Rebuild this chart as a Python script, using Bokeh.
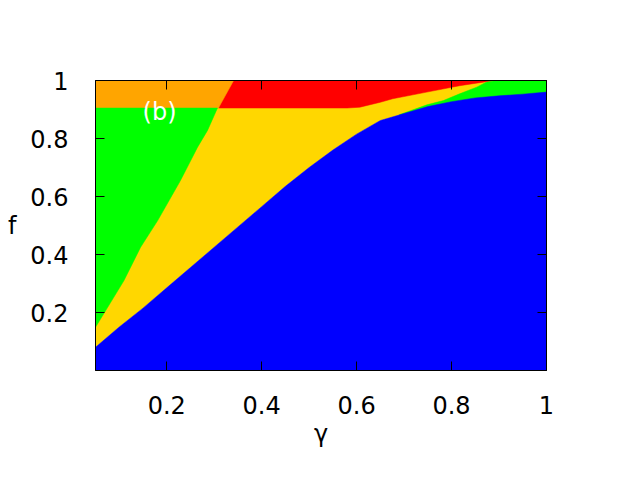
from bokeh.plotting import figure
from bokeh.models import Range1d, LinearAxis, FixedTicker, CustomJSTickFormatter, Label
from bokeh.embed import file_html
from bokeh.resources import INLINE

# ---- data: phase boundaries f(gamma) ----
blue_gamma = [0.05, 0.10, 0.15, 0.20, 0.25, 0.30, 0.35, 0.40, 0.45, 0.50,
              0.55, 0.60, 0.65, 0.70, 0.75, 0.80, 0.85, 0.90, 0.95, 1.00]
blue_f = [0.080, 0.150, 0.215, 0.285, 0.355, 0.425, 0.495, 0.565, 0.635, 0.700,
          0.760, 0.815, 0.862, 0.886, 0.910, 0.927, 0.940, 0.947, 0.953, 0.960]

left_green_gamma = [0.05, 0.110, 0.145, 0.181, 0.229, 0.265, 0.286, 0.307]
left_green_f = [0.149, 0.310, 0.425, 0.517, 0.655, 0.770, 0.828, 0.905]

orange_gamma = [0.05, 0.309, 0.341]
orange_f = [0.905, 0.905, 1.000]

red_gamma = [0.309, 0.58, 0.607, 0.65, 0.676, 0.748, 0.817, 0.873, 0.894]
red_f = [0.905, 0.905, 0.908, 0.925, 0.937, 0.960, 0.982, 0.996, 1.000]

right_green_gamma = [0.69, 0.748, 0.783, 0.817, 0.853, 0.873, 0.894, 1.00]
right_green_f = [0.882, 0.916, 0.931, 0.954, 0.977, 0.994, 1.000, 1.000]

x_ticks = [0.2, 0.4, 0.6, 0.8, 1.0]
y_ticks = [0.2, 0.4, 0.6, 0.8, 1.0]

GMIN, GMAX = 0.05, 1.0
FMIN, FMAX = 0.0, 1.0

BLUE = "#0000FF"
YELLOW = "#FFD700"
GREEN = "#00FF00"
RED = "#FF0000"
ORANGE = "#FFA500"

p = figure(width=640, height=480,
           x_range=Range1d(GMIN, GMAX), y_range=Range1d(FMIN, FMAX),
           output_backend="svg", toolbar_location=None,
           min_border_left=95, min_border_right=94,
           min_border_top=80, min_border_bottom=110)
p.grid.visible = False
p.outline_line_color = "black"
p.outline_line_width = 1
p.background_fill_color = "white"
p.border_fill_color = "white"

# yellow: everything above the blue boundary
p.patch(blue_gamma + [GMAX, GMIN], blue_f + [FMAX, FMAX],
        fill_color=YELLOW, line_color=YELLOW, line_width=0.5)
# red: above red boundary
p.patch(red_gamma + [red_gamma[-1], red_gamma[0]], red_f + [FMAX, FMAX],
        fill_color=RED, line_color=RED, line_width=0.5)
# orange: top-left corner
p.patch(orange_gamma + [GMIN], orange_f + [FMAX],
        fill_color=ORANGE, line_color=ORANGE, line_width=0.5)
# left green wedge
p.patch(left_green_gamma + [GMIN], left_green_f + [orange_f[0]],
        fill_color=GREEN, line_color=GREEN, line_width=0.5)
# right green band (blue drawn on top)
p.patch(right_green_gamma + [GMAX, right_green_gamma[0]],
        right_green_f + [0.5, 0.5],
        fill_color=GREEN, line_color=GREEN, line_width=0.5)
# blue: below the blue boundary
p.patch([GMIN] + blue_gamma + [GMAX], [FMIN] + blue_f + [FMIN],
        fill_color=BLUE, line_color=BLUE, line_width=0.5)

fmt = CustomJSTickFormatter(code="return String(Math.round(tick*10)/10);")
FONT = "DejaVu Sans"

def style_axis(ax, ticks, show_labels):
    ax.ticker = FixedTicker(ticks=ticks)
    ax.formatter = fmt
    ax.minor_tick_line_color = None
    ax.major_tick_in = 9
    ax.major_tick_out = 0
    ax.major_tick_line_color = "black"
    ax.axis_line_color = "black"
    ax.major_label_text_font = FONT
    ax.major_label_text_font_size = "24px"
    if show_labels:
        ax.major_label_text_color = "black"
    else:
        ax.major_label_text_color = None
        ax.major_label_standoff = 0

style_axis(p.xaxis[0], x_ticks, True)
style_axis(p.yaxis[0], y_ticks, True)
p.xaxis[0].major_label_standoff = 25
p.yaxis[0].major_label_standoff = 27

xa = p.xaxis[0]
xa.axis_label = "γ"
xa.axis_label_standoff = 3
ya = p.yaxis[0]
ya.axis_label = "f"
ya.axis_label_orientation = "horizontal"
ya.axis_label_standoff = 11
for ax in (xa, ya):
    ax.axis_label_text_font = FONT
    ax.axis_label_text_font_size = "24px"
    ax.axis_label_text_font_style = "normal"
    ax.axis_label_text_color = "black"

top = LinearAxis()
right = LinearAxis()
style_axis(top, x_ticks, False)
style_axis(right, y_ticks, False)
p.add_layout(top, "above")
p.add_layout(right, "right")

p.add_layout(Label(x=0.185, y=0.893, text="(b)", text_align="center",
                   text_baseline="middle", text_color="white",
                   text_font=FONT, text_font_size="24px"))

open("out.html", "w").write(file_html(p, INLINE))
